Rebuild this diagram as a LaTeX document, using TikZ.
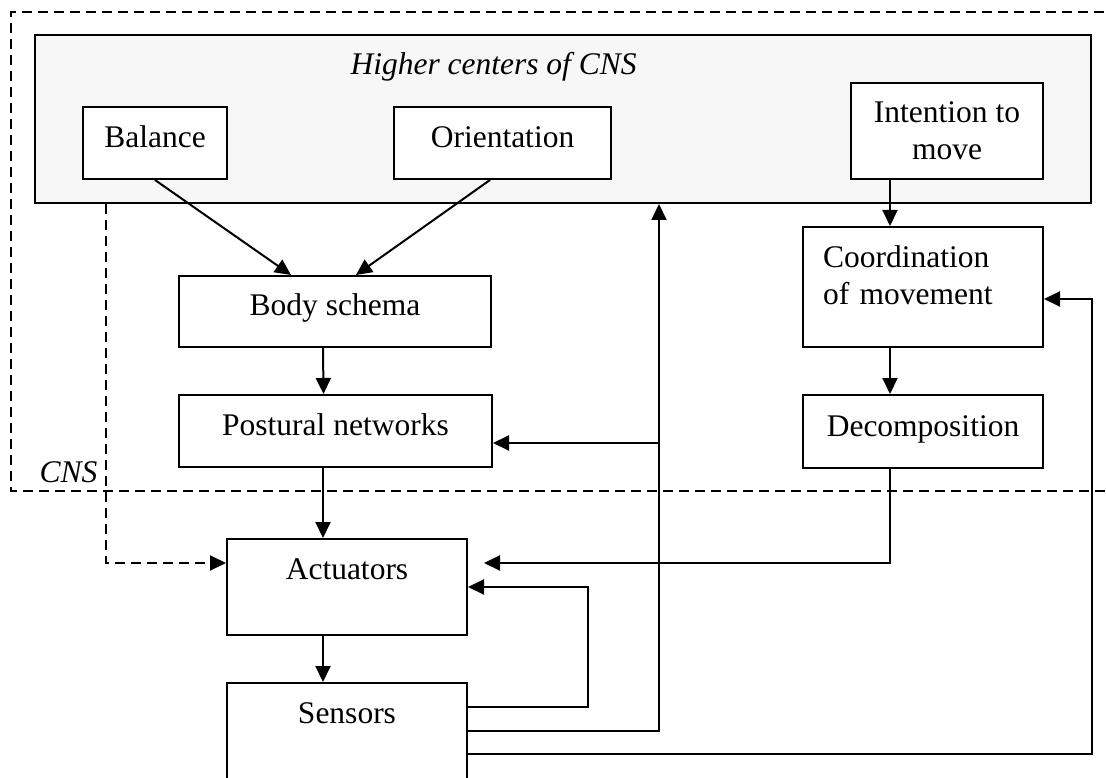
\documentclass[tikz,border=0pt]{standalone}
\usepackage{fontspec}
\setmainfont{Liberation Serif}
\usetikzlibrary{arrows.meta}
\definecolor{hcgray}{RGB}{247,247,247}
\newcommand{\figfont}{\fontsize{31.5}{37.5}\selectfont}

\tikzset{
  blockbox/.style={draw, line width=2pt, fill=white, inner sep=0pt, text height=40pt},
  flow/.style={line width=2pt, -{Triangle[length=16pt,width=15pt]}},
  cnsline/.style={line width=2pt, dash pattern=on 10pt off 6pt},
}

\begin{document}
\begin{tikzpicture}[x=1pt, y=-1pt, font=\figfont]
  \useasboundingbox (0,0) rectangle (1106,778);
  \clip (0,0) rectangle (1106,778);

  \draw[cnsline] (1104,12) -| (11,491) -- (1106,491);
  \node[anchor=base east, font=\figfont\itshape] (cnslabel) at (101,482) {CNS};

  \node[draw, line width=2pt, fill=hcgray, inner sep=0pt,
        minimum width=1056pt, minimum height=168pt] (hc) at (563,119) {};
  \node[anchor=base west, font=\figfont\itshape] (hctitle) at (347,75) {Higher centers of CNS};

  \node[blockbox, minimum width=144pt, text height=41pt, text depth=31pt] (bal) at (155,143) {Balance};
  \node[blockbox, minimum width=217pt, text height=41pt, text depth=31pt] (ori) at (502.5,143) {Orientation};
  \node[blockbox, minimum width=192pt, text height=77pt, text depth=19pt, align=center] (int) at (947,131) {Intention to\\move};

  \node[blockbox, minimum width=312pt, text depth=31pt] (body) at (335,311.5) {Body schema};
  \node[blockbox, minimum width=313pt, text depth=32pt] (post) at (335.5,431) {Postural networks};
  \node[blockbox, text width=200pt, inner xsep=20pt, text depth=80pt, align=left] (coord) at (923,287) {Coordination\\of movement};
  \node[blockbox, minimum width=240pt, text height=41pt, text depth=32pt] (dec) at (923,431.5) {Decomposition};
  \node[blockbox, minimum width=240pt, text depth=56pt] (act) at (347,587) {Actuators};
  \node[blockbox, minimum width=240pt, text depth=80pt] (sen) at (347,743) {Sensors};

  \draw[flow] (bal.south) -- ([xshift=-44pt]body.north);
  \draw[flow] ([xshift=-12.5pt]ori.south) -- ([xshift=21pt]body.north);
  \draw[flow] ([xshift=-12pt]body.south) -- ([xshift=-12pt]post.north);
  \draw[flow] ([xshift=-24pt]act.north |- post.south) -- ([xshift=-24pt]act.north);
  \draw[flow] ([xshift=-24pt]act.south) -- ([xshift=-24pt]sen.north);
  \draw[flow, dash pattern=on 10pt off 6pt] ([xshift=24pt]bal.west |- hc.south) |- ([yshift=24pt]act.west);

  \draw[flow] ([xshift=-33pt]coord.north |- int.south) -- ([xshift=-33pt]coord.north);
  \draw[flow] ([xshift=-33pt]coord.south) -- ([xshift=-33pt]dec.north);
  \draw[flow, shorten >=16pt] ([xshift=-33pt]dec.south) |- ([yshift=24pt]act.east);

  \coordinate (fb) at (659,443);
  \coordinate (rt) at (1092,299);
  \draw[flow] ([yshift=-25pt]sen.north east) -- ++(120,0) |- (act.east);
  \draw[flow] ([yshift=-49pt]sen.north east) -| (fb) -- (fb |- hc.south);
  \draw[flow] (fb) -- (post.east |- fb);
  \draw[flow] ([yshift=-72pt]sen.north east) -| (rt) -- (coord.east |- rt);
\end{tikzpicture}
\end{document}
